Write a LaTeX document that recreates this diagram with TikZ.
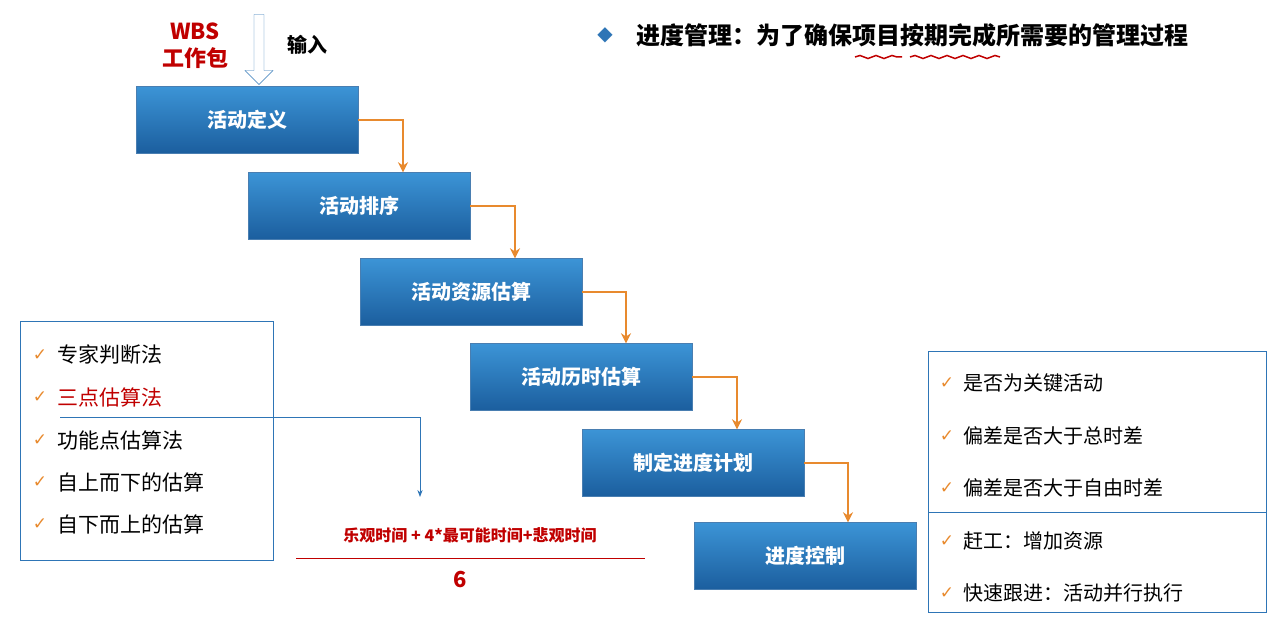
\documentclass[tikz,border=0pt]{standalone}
\usepackage{fontspec}
\setmainfont{Noto Sans CJK SC}
\newfontfamily\sym{DejaVu Sans}
\usetikzlibrary{arrows.meta,decorations.pathmorphing,shapes.arrows}
\definecolor{boxtop}{HTML}{3C94D6}
\definecolor{boxbot}{HTML}{1B5E9E}
\definecolor{orng}{HTML}{E88A2E}
\definecolor{frame}{HTML}{2E75B6}
\definecolor{dred}{HTML}{C00000}
\tikzset{
 stepbox/.style={minimum width=222pt,minimum height=67pt,inner sep=0,top color=boxtop,bottom color=boxbot,draw=boxbot!80!white,text=white,font=\fontsize{20}{24}\selectfont\bfseries},
 flow/.style={orng,line width=2pt,-{Stealth[length=10pt,width=10pt]}},
 item/.style={anchor=west,font=\fontsize{21}{25}\selectfont},
 ck/.style={text=orng,font=\sym\fontsize{17}{20}\selectfont}
}
\begin{document}
\begin{tikzpicture}[x=1pt,y=-1pt]
\useasboundingbox (0,0) rectangle (1280,618);
\node[stepbox] (a) at (247,120) {活动定义};
\node[stepbox] (b) at (359,206) {活动排序};
\node[stepbox] (c) at (471,292) {活动资源估算};
\node[stepbox] (d) at (581,377) {活动历时估算};
\node[stepbox] (e) at (693,463) {制定进度计划};
\node[stepbox] (f) at (805,556) {进度控制};
\foreach \u/\v/\x in {a/b/403,b/c/515,c/d/626,d/e/737,e/f/848}{
 \coordinate (tmpx) at (\x,0);
 \draw[flow] (\u.east) -- (tmpx |- \u.east) -- (tmpx |- \v.north);
}
% WBS
\node[text=dred,font=\fontsize{22}{27}\selectfont\bfseries,align=center] (wbs) at (195,46) {WBS\\工作包};
\node[draw=frame,fill=white,single arrow,shape border rotate=270,minimum height=70pt,minimum width=28pt,single arrow head extend=4pt,inner sep=2pt] (inp) at (259,47) {};
\node[font=\fontsize{20}{24}\selectfont\bfseries] (inpt) at (307,45) {输入};
% title
\node[text=frame,font=\sym\fontsize{20}{24}\selectfont] (dia) at (605,35) {◆};
\node[anchor=west,font=\fontsize{24}{28}\selectfont\bfseries,inner sep=0] (title) at (636,35) {进度管理：为了确保项目按期完成所需要的管理过程};
\draw[dred,line width=1.5pt,decorate,decoration={snake,amplitude=1.5pt,segment length=16pt}] (855,57) -- (902,57);
\draw[dred,line width=1.5pt,decorate,decoration={snake,amplitude=1.5pt,segment length=16pt}] (910,57) -- (1000,57);
% left box
\draw[frame,line width=1pt] (20,321) rectangle (273,560);
\foreach \t/\y in {专家判断法/355,功能点估算法/440,自上而下的估算/482,自下而上的估算/524}{
 \node[ck] at (40,\y) {✓};
 \node[item] at (54,\y) {\t};
}
\node[ck] at (40,397) {✓};
\node[item,text=dred] (three) at (54,397) {三点估算法};
\coordinate (fm) at (420,497);
\draw[frame,line width=1pt,-{Stealth[length=7pt]}] (60,417) -- (420,417) -- (fm);
% formula
\node[text=dred,font=\fontsize{16}{19}\selectfont\bfseries] (num) at (470,535) {乐观时间 + 4*最可能时间+悲观时间};
\draw[dred,line width=1pt] (296,558) -- (645,558);
\node[text=dred,font=\fontsize{22}{26}\selectfont\bfseries] (den) at (460,580) {6};
% right box
\draw[frame,line width=1pt] (928,351) rectangle (1266,612);
\draw[frame,line width=1pt] (928,512) -- (1266,512);
\foreach \t/\y in {是否为关键活动/383,偏差是否大于总时差/436,偏差是否大于自由时差/488,赶工：增加资源/541,快速跟进：活动并行执行/593}{
 \node[ck] at (947,\y) {✓};
 \node[item,font=\fontsize{20}{24}\selectfont] at (960,\y) {\t};
}
\end{tikzpicture}
\end{document}
